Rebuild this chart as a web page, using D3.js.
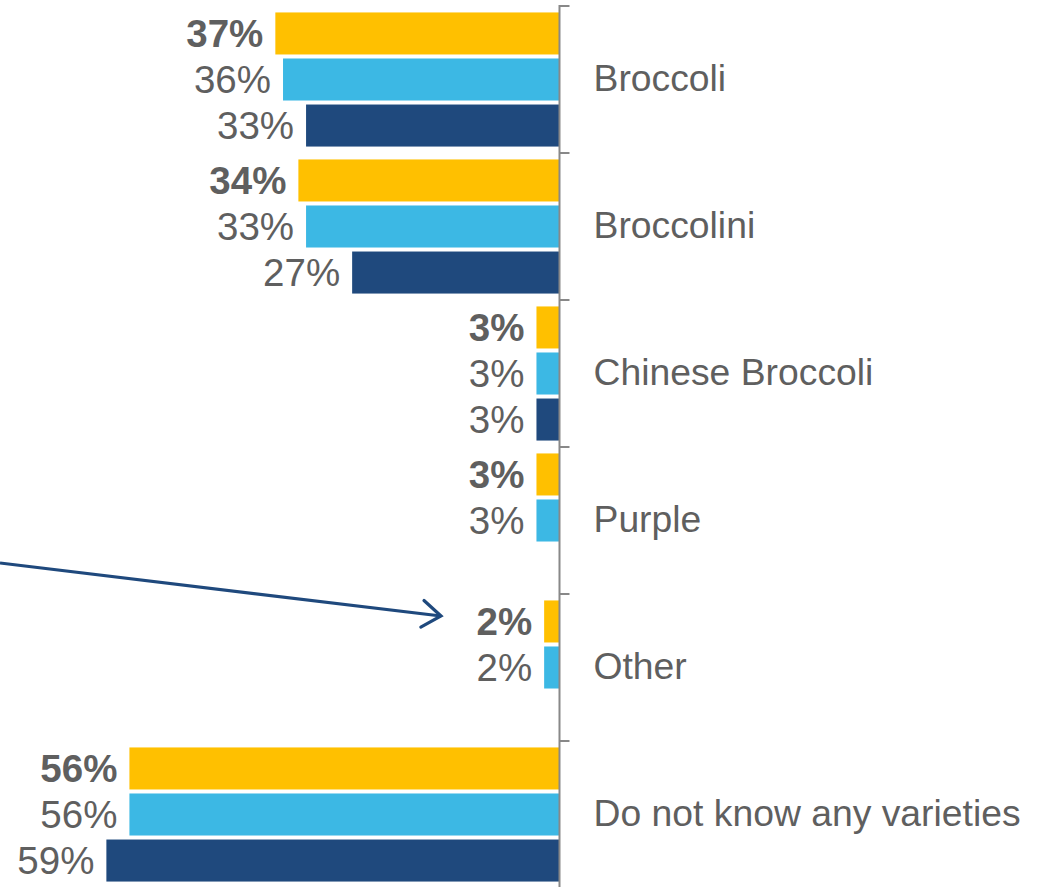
<!DOCTYPE html>
<html>
<head>
<meta charset="utf-8">
<script src="https://cdn.jsdelivr.net/npm/d3@7"></script>
<style>
  html, body { margin: 0; padding: 0; background: #fff; }
  svg { display: block; }
  text { font-family: "Liberation Sans", Arial, sans-serif; }
</style>
</head>
<body>
<svg id="chart" width="1043" height="887"></svg>
<script>
// Broccoli varieties known, three survey waves (latest first)
const categories = ["Broccoli", "Broccolini", "Chinese Broccoli", "Purple", "Other", "Do not know any varieties"];
const seriesNames = ["latest", "previous", "earliest"];
const latest   = [37, 34, 3, 3, 2, 56];
const previous = [36, 33, 3, 3, 2, 56];
const earliest = [33, 27, 3, null, null, 59];

const colors = { latest: "#FFC000", previous: "#3CB8E4", earliest: "#1F497D" };
const seriesData = { latest, previous, earliest };

const svg = d3.select("#chart");
const W = 1043, H = 887;
const axisX = 559.5;

const y = d3.scaleBand().domain(categories).range([6, 888]).paddingInner(0).paddingOuter(0);
const ySub = d3.scaleBand().domain(seriesNames).range([0, y.bandwidth()])
  .paddingInner(0.087).paddingOuter(0.14);
const x = d3.scaleLinear().domain([0, 60]).range([axisX, axisX - 60 * 7.68]);

const rows = [];
categories.forEach((c, i) => {
  seriesNames.forEach(s => {
    const v = seriesData[s][i];
    if (v != null) rows.push({ cat: c, series: s, value: v });
  });
});

// bars
svg.append("g").selectAll("rect").data(rows).join("rect")
  .attr("x", d => x(d.value))
  .attr("y", d => y(d.cat) + ySub(d.series))
  .attr("width", d => x(0) - x(d.value))
  .attr("height", ySub.bandwidth())
  .attr("fill", d => colors[d.series]);

// value labels
svg.append("g").selectAll("text").data(rows).join("text")
  .attr("x", d => x(d.value) - 12)
  .attr("y", d => y(d.cat) + ySub(d.series) + ySub.bandwidth() / 2)
  .attr("dy", "0.36em")
  .attr("text-anchor", "end")
  .attr("font-size", 38.5)
  .attr("font-weight", d => d.series === "latest" ? "bold" : "normal")
  .attr("fill", "#5f5f5f")
  .text(d => d.value + "%");

// category axis on the right side of the bars
const axis = d3.axisRight(y).tickSize(0).tickPadding(34);
const gAxis = svg.append("g").attr("transform", `translate(${axisX},0)`).call(axis);
gAxis.select(".domain").remove();
gAxis.selectAll("text")
  .attr("font-size", 37.3)
  .attr("fill", "#5f5f5f")
  .attr("font-family", "Liberation Sans, Arial, sans-serif");

svg.append("line")
  .attr("x1", axisX).attr("x2", axisX)
  .attr("y1", 5).attr("y2", H)
  .attr("stroke", "#888").attr("stroke-width", 2);

const boundaries = categories.map(c => y(c)).concat([y.range()[1]]);
svg.append("g").selectAll("line").data(boundaries).join("line")
  .attr("x1", axisX).attr("x2", axisX + 10)
  .attr("y1", d => d).attr("y2", d => d)
  .attr("stroke", "#888").attr("stroke-width", 2);

// callout arrow pointing at "Other"
const arrowColor = "#1F497D";
const start = [0, 563], tip = [441, 616];
svg.append("line")
  .attr("x1", start[0]).attr("y1", start[1])
  .attr("x2", tip[0]).attr("y2", tip[1])
  .attr("stroke", arrowColor).attr("stroke-width", 3.2);
const ang = Math.atan2(tip[1] - start[1], tip[0] - start[0]);
const armLen = 23, spread = 0.62;
const arm = s => [tip[0] - armLen * Math.cos(ang + s), tip[1] - armLen * Math.sin(ang + s)];
svg.append("path")
  .attr("d", d3.line()([arm(spread), tip, arm(-spread)]))
  .attr("fill", "none")
  .attr("stroke", arrowColor).attr("stroke-width", 3.2)
  .attr("stroke-linecap", "round").attr("stroke-linejoin", "miter");
</script>
</body>
</html>
